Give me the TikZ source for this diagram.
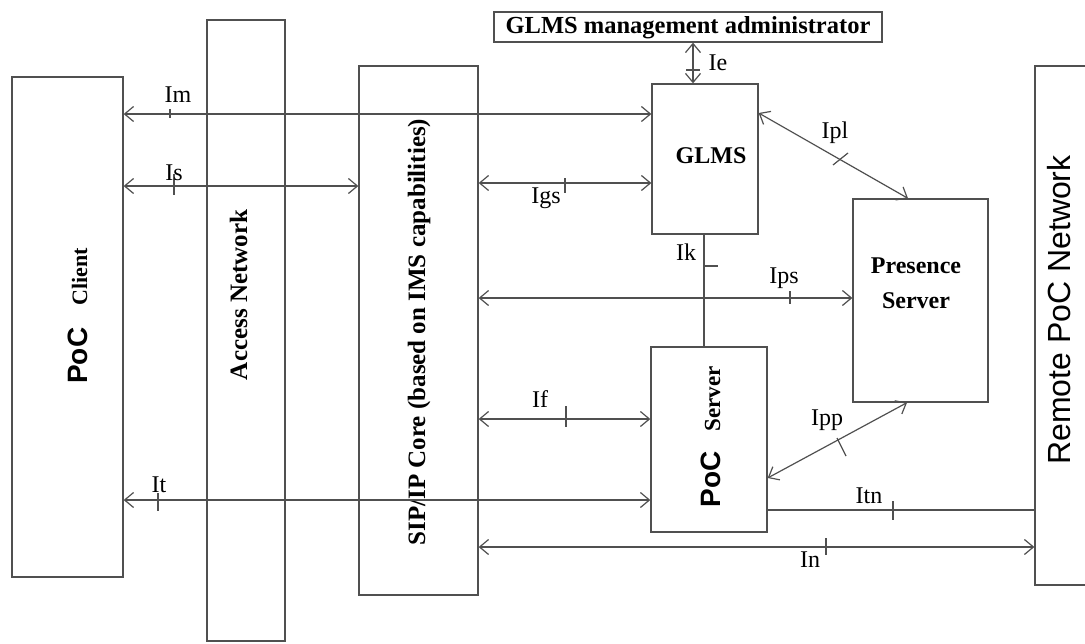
\documentclass[tikz,border=0pt]{standalone}
\usepackage{fontspec}
\setmainfont{Liberation Serif}
\newfontfamily\arialf{Liberation Sans}
\usetikzlibrary{arrows.meta,calc}
\definecolor{lg}{RGB}{80,80,80}
\begin{document}
\begin{tikzpicture}[x=1pt,y=-1pt,
  blk/.style={draw=lg, line width=1.3pt, inner sep=0pt, rectangle},
  conn/.style={draw=lg, line width=1.2pt},
  tk/.style={draw=lg, line width=1.2pt},
  lbl/.style={font=\fontsize{24}{28}\selectfont, anchor=base, inner sep=0pt},
  ttl/.style={font=\bfseries\fontsize{24}{28}\selectfont, inner sep=0pt},
  >={Straight Barb[length=9pt,width=15pt]}]
\useasboundingbox (0,0) rectangle (1085,643);
\clip (0,0) rectangle (1085,643);
% boxes
\node[blk, minimum width=111pt, minimum height=500pt] (client) at (67.5,327) {};
\node[blk, minimum width=78pt, minimum height=621pt] (access) at (246,330.5) {};
\node[blk, minimum width=119pt, minimum height=529pt] (sip) at (418.5,330.5) {};
\node[blk, minimum width=388pt, minimum height=30pt] (admin) at (688,27) {};
\node[blk, minimum width=106pt, minimum height=150pt] (glms) at (705,159) {};
\node[blk, minimum width=135pt, minimum height=203pt] (presence) at (920.5,300.5) {};
\node[blk, minimum width=116pt, minimum height=185pt] (pocsrv) at (709,439.5) {};
\node[blk, minimum width=65pt, minimum height=519pt] (remote) at (1067.5,325.5) {};
% box texts
\node[inner sep=0pt, anchor=base, rotate=90] (clienttxt) at (87,316)
  {{\arialf\bfseries\fontsize{28}{30}\selectfont PoC}\hspace{22pt}{\bfseries\fontsize{22}{24}\selectfont Client}};
\node[ttl, anchor=base, rotate=90, font=\bfseries\fontsize{25}{28}\selectfont] (accesstxt) at (247,295) {Access Network};
\node[ttl, anchor=base, rotate=90, font=\bfseries\fontsize{25}{28}\selectfont] (siptxt) at (425,332) {SIP/IP Core (based on IMS capabilities)};
\node[ttl, anchor=base, font=\bfseries\fontsize{24.5}{28}\selectfont] (admintxt) at (688,33) {GLMS management administrator};
\node[ttl, anchor=base] (glmstxt) at (711,163) {GLMS};
\node[ttl, align=center, font=\bfseries\fontsize{24}{35}\selectfont] (presencetxt) at (916,283) {Presence\\Server};
\node[inner sep=0pt, anchor=base, rotate=90] (pocsrvtxt) at (720,437)
  {{\arialf\bfseries\fontsize{28}{30}\selectfont PoC}\hspace{20pt}{\bfseries\fontsize{23}{24}\selectfont Server}};
\node[inner sep=0pt, anchor=base, rotate=90, font=\arialf\fontsize{32}{36}\selectfont] (remotetxt) at (1070,310) {Remote PoC Network};
% y / x reference coordinates
\coordinate (yIm) at (0,114);
\coordinate (yIs) at (0,186);
\coordinate (yIgs) at (0,183);
\coordinate (yIps) at (0,298);
\coordinate (yIf) at (0,419);
\coordinate (yIt) at (0,500);
\coordinate (yItn) at (0,510);
\coordinate (yIn) at (0,547);
\coordinate (xIe) at (693,0);
\coordinate (xIk) at (704,0);
\coordinate (yIpl) at (0,113);
\coordinate (xIpl) at (908,0);
\coordinate (yIpp) at (0,478);
\coordinate (xIpp) at (907,0);
% connectors
\draw[conn,<->] (client.east |- yIm) -- (glms.west |- yIm);
\draw[conn,<->] (client.east |- yIs) -- (sip.west |- yIs);
\draw[conn,<->] (sip.east |- yIgs) -- (glms.west |- yIgs);
\draw[conn,<->] (sip.east |- yIps) -- (presence.west |- yIps);
\draw[conn,<->] (sip.east |- yIf) -- (pocsrv.west |- yIf);
\draw[conn,<->] (client.east |- yIt) -- (pocsrv.west |- yIt);
\draw[conn] (pocsrv.east |- yItn) -- (remote.west |- yItn);
\draw[conn,<->] (sip.east |- yIn) -- (remote.west |- yIn);
\draw[conn,<->] (admin.south -| xIe) -- (glms.north -| xIe);
\draw[conn] (glms.south -| xIk) -- (pocsrv.north -| xIk);
\draw[conn,<->] (glms.east |- yIpl) -- (presence.north -| xIpl);
\draw[conn,<->] (pocsrv.east |- yIpp) -- (presence.south -| xIpp);
% ticks
\draw[tk] (170,109) -- (170,118);
\draw[tk] (174,174) -- (174,195);
\draw[tk] (565,178) -- (565,193);
\draw[tk] (790,291) -- (790,304);
\draw[tk] (704,266) -- (718,266);
\draw[tk] (566,406) -- (566,427);
\draw[tk] (158,493) -- (158,511);
\draw[tk] (893,501) -- (893,520);
\draw[tk] (826,538) -- (826,555);
\draw[tk] (686,70) -- (700,70);
\draw[tk] (833,165) -- (848,153);
\draw[tk] (837,438) -- (846,456);
% labels
\node[lbl] (lIm) at (178,102) {Im};
\node[lbl] (lIs) at (174,180) {Is};
\node[lbl] (lIgs) at (546,203) {Igs};
\node[lbl] (lIk) at (686,260) {Ik};
\node[lbl] (lIps) at (784,283) {Ips};
\node[lbl] (lIe) at (718,70) {Ie};
\node[lbl] (lIpl) at (835,138) {Ipl};
\node[lbl] (lIf) at (540,407) {If};
\node[lbl] (lIpp) at (827,425) {Ipp};
\node[lbl] (lIt) at (159,492) {It};
\node[lbl] (lItn) at (869,503) {Itn};
\node[lbl] (lIn) at (810,567) {In};
\end{tikzpicture}
\end{document}
